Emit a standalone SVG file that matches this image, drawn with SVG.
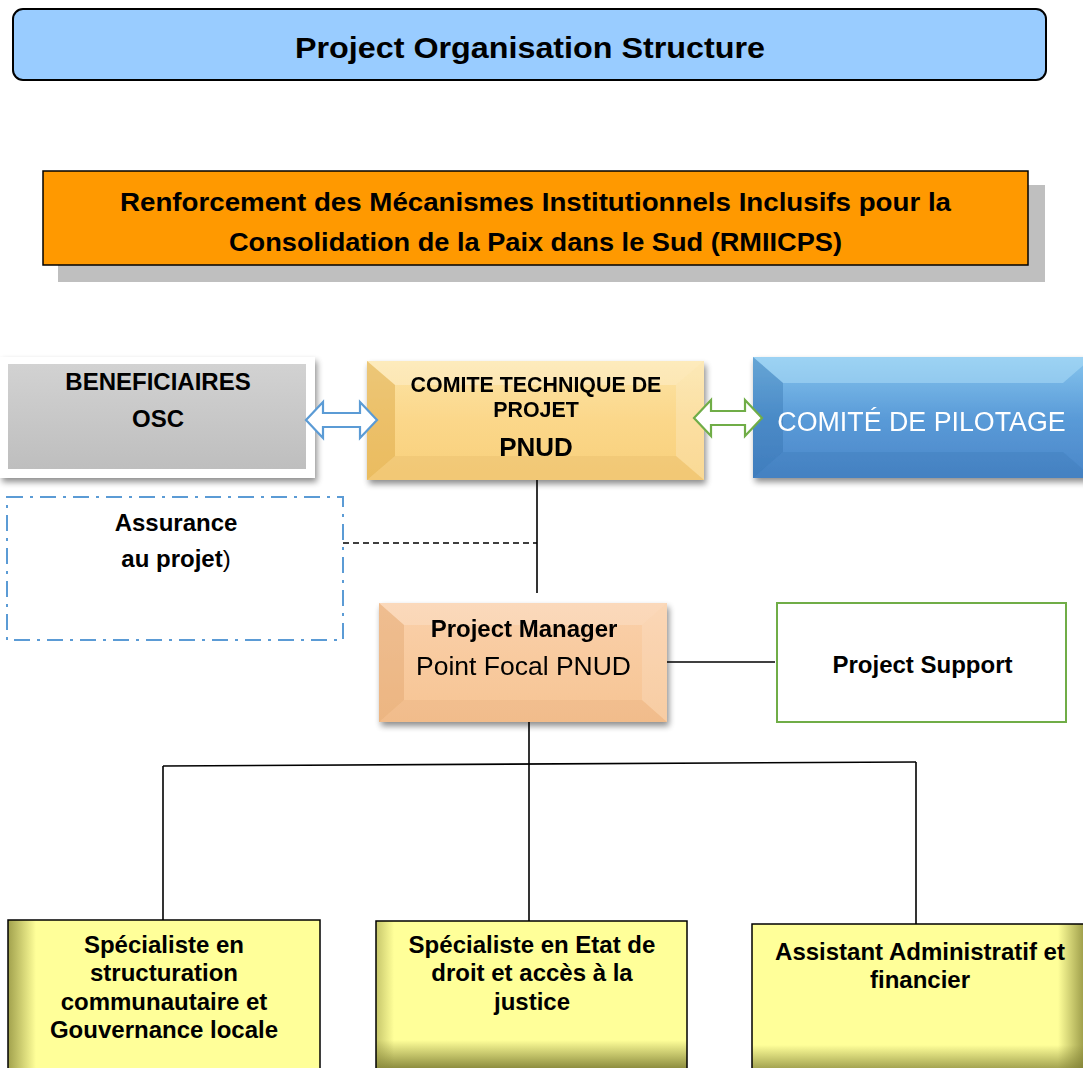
<svg xmlns="http://www.w3.org/2000/svg" width="1083" height="1068" viewBox="0 0 1083 1068">
  <defs>
    <style>
      .t { font-family: "Liberation Sans", Arial, sans-serif; text-anchor: middle; fill: #000; }
      .b { font-weight: bold; }
      .conn { stroke: #000; stroke-width: 1.6; fill: none; }
    </style>
    <filter id="shadow" x="-10%" y="-10%" width="125%" height="130%">
      <feGaussianBlur in="SourceAlpha" stdDeviation="3"/>
      <feOffset dx="2" dy="4" result="o"/>
      <feComponentTransfer><feFuncA type="linear" slope="0.45"/></feComponentTransfer>
      <feMerge><feMergeNode/><feMergeNode in="SourceGraphic"/></feMerge>
    </filter>
    <linearGradient id="gold" x1="0" y1="0" x2="0" y2="1">
      <stop offset="0" stop-color="#FCE4A6"/>
      <stop offset="0.5" stop-color="#FBD78A"/>
      <stop offset="1" stop-color="#F8D07B"/>
    </linearGradient>
    <linearGradient id="blue" x1="0" y1="0" x2="0" y2="1">
      <stop offset="0" stop-color="#86C5EE"/>
      <stop offset="0.5" stop-color="#5A9BD8"/>
      <stop offset="1" stop-color="#4A86C8"/>
    </linearGradient>
    <linearGradient id="peach" x1="0" y1="0" x2="0" y2="1">
      <stop offset="0" stop-color="#FAD0AA"/>
      <stop offset="1" stop-color="#F6C493"/>
    </linearGradient>
    <linearGradient id="grey" x1="0" y1="0" x2="0" y2="1">
      <stop offset="0" stop-color="#D2D2D2"/>
      <stop offset="1" stop-color="#BEBEBE"/>
    </linearGradient>
    <linearGradient id="shadeLeft" x1="0" y1="0" x2="1" y2="0">
      <stop offset="0" stop-color="#8A8A3A" stop-opacity="0.8"/>
      <stop offset="1" stop-color="#8A8A3A" stop-opacity="0"/>
    </linearGradient>
    <linearGradient id="shadeRight" x1="1" y1="0" x2="0" y2="0">
      <stop offset="0" stop-color="#8A8A3A" stop-opacity="0.8"/>
      <stop offset="1" stop-color="#8A8A3A" stop-opacity="0"/>
    </linearGradient>
    <linearGradient id="shadeBottom" x1="0" y1="1" x2="0" y2="0">
      <stop offset="0" stop-color="#7A7A30" stop-opacity="0.85"/>
      <stop offset="1" stop-color="#7A7A30" stop-opacity="0"/>
    </linearGradient>
  </defs>

  <rect width="1083" height="1068" fill="#fff"/>

  <!-- heading -->
  <g id="title">
    <rect x="13" y="9" width="1033" height="71" rx="10" fill="#99CCFF" stroke="#000" stroke-width="2"/>
    <text class="t b" x="530" y="58" font-size="30" textLength="470" lengthAdjust="spacingAndGlyphs">Project Organisation Structure</text>
  </g>

  <!-- project name banner -->
  <g id="project-name">
    <rect x="58" y="185" width="987" height="97" fill="#BFBFBF"/>
    <rect x="43" y="171" width="985" height="94" fill="#FF9900" stroke="#000" stroke-width="1.5"/>
    <text class="t b" x="535.5" y="211" font-size="26" textLength="831" lengthAdjust="spacingAndGlyphs">Renforcement des Mécanismes Institutionnels Inclusifs pour la</text>
    <text class="t b" x="535.5" y="251" font-size="26" textLength="613" lengthAdjust="spacingAndGlyphs">Consolidation de la Paix dans le Sud (RMIICPS)</text>
  </g>

  <!-- beneficiaries -->
  <g id="beneficiaires">
    <rect x="0" y="357" width="315" height="121" fill="#fff" filter="url(#shadow)"/>
    <rect x="8" y="364" width="298" height="105" fill="url(#grey)"/>
    <text class="t b" x="158" y="390" font-size="24">BENEFICIAIRES</text>
    <text class="t b" x="158" y="427" font-size="24">OSC</text>
  </g>

  <!-- technical committee -->
  <g id="comite-technique" filter="url(#shadow)">
    <rect x="367" y="361" width="337" height="119" fill="url(#gold)"/>
    <path d="M367,361 L704,361 L676,385 L395,385 Z" fill="#fff" opacity="0.25"/>
    <path d="M367,361 L395,385 L395,456 L367,480 Z" fill="#D9A441" opacity="0.45"/>
    <path d="M704,361 L676,385 L676,456 L704,480 Z" fill="#fff" opacity="0.2"/>
    <path d="M367,480 L395,456 L676,456 L704,480 Z" fill="#E0B060" opacity="0.25"/>
    <text class="t b" x="536" y="392" font-size="21.4">COMITE TECHNIQUE DE</text>
    <text class="t b" x="536" y="417" font-size="21.4">PROJET</text>
    <text class="t b" x="536" y="456" font-size="26">PNUD</text>
  </g>

  <!-- steering committee -->
  <g id="comite-pilotage" filter="url(#shadow)">
    <rect x="753" y="357" width="340" height="121" fill="url(#blue)"/>
    <path d="M753,357 L1093,357 L1063,383 L783,383 Z" fill="#B8E4FA" opacity="0.45"/>
    <path d="M753,357 L783,383 L783,452 L753,478 Z" fill="#2F6EA8" opacity="0.35"/>
    <path d="M753,478 L783,452 L1063,452 L1093,478 Z" fill="#2F6EA8" opacity="0.2"/>
    <text class="t" x="921.5" y="431" font-size="26.8" style="fill:#fff">COMITÉ DE PILOTAGE</text>
  </g>

  <!-- project assurance -->
  <g id="assurance">
    <rect x="7" y="497" width="336" height="143" fill="none" stroke="#5B9BD5" stroke-width="2" stroke-dasharray="16 7 3 7"/>
    <text class="t b" x="176" y="531" font-size="24">Assurance</text>
    <text class="t" x="176" y="567" font-size="24"><tspan font-weight="bold">au projet</tspan>)</text>
  </g>

  <!-- project manager -->
  <g id="project-manager" filter="url(#shadow)">
    <rect x="379" y="603" width="288" height="119" fill="url(#peach)"/>
    <path d="M379,603 L667,603 L642,625 L404,625 Z" fill="#fff" opacity="0.2"/>
    <path d="M379,603 L404,625 L404,700 L379,722 Z" fill="#D99A60" opacity="0.35"/>
    <path d="M667,603 L642,625 L642,700 L667,722 Z" fill="#fff" opacity="0.15"/>
    <path d="M379,722 L404,700 L642,700 L667,722 Z" fill="#E0A070" opacity="0.2"/>
    <text class="t b" x="524" y="637" font-size="24">Project Manager</text>
    <text class="t" x="523.5" y="675" font-size="26.5">Point Focal PNUD</text>
  </g>

  <!-- project support -->
  <g id="project-support">
    <rect x="777" y="603" width="289" height="119" fill="#fff" stroke="#70AD47" stroke-width="2"/>
    <text class="t b" x="922.5" y="673" font-size="24">Project Support</text>
  </g>

  <!-- specialists and assistant -->
  <g id="specialiste-gouvernance">
    <rect x="8" y="920" width="312" height="160" fill="#FFFF99"/>
    <rect x="8" y="920" width="28" height="160" fill="url(#shadeLeft)"/>
    <rect x="8" y="920" width="312" height="160" fill="none" stroke="#000" stroke-width="1.5"/>
    <text class="t b" x="164" y="953" font-size="24">Spécialiste en</text>
    <text class="t b" x="164" y="981" font-size="24">structuration</text>
    <text class="t b" x="164" y="1010" font-size="24">communautaire et</text>
    <text class="t b" x="164" y="1038" font-size="24">Gouvernance locale</text>
  </g>

  <g id="specialiste-justice">
    <rect x="376" y="921" width="311" height="160" fill="#FFFF99"/>
    <rect x="376" y="1040" width="311" height="28" fill="url(#shadeBottom)"/>
    <rect x="376" y="921" width="18" height="160" fill="url(#shadeLeft)" opacity="0.6"/>
    <rect x="376" y="921" width="311" height="160" fill="none" stroke="#000" stroke-width="1.5"/>
    <text class="t b" x="532" y="953" font-size="24">Spécialiste en Etat de</text>
    <text class="t b" x="532" y="981" font-size="24">droit et accès à la</text>
    <text class="t b" x="532" y="1010" font-size="24">justice</text>
  </g>

  <g id="assistant-admin">
    <rect x="752" y="924" width="340" height="160" fill="#FFFF99"/>
    <rect x="1058" y="924" width="25" height="160" fill="url(#shadeRight)"/>
    <rect x="752" y="1045" width="340" height="23" fill="url(#shadeBottom)" opacity="0.8"/>
    <rect x="752" y="924" width="340" height="160" fill="none" stroke="#000" stroke-width="1.5"/>
    <text class="t b" x="920" y="960" font-size="24">Assistant Administratif et</text>
    <text class="t b" x="920" y="988" font-size="24">financier</text>
  </g>

  <!-- connectors, drawn over the node edges -->
  <g id="connectors">
    <line class="conn" x1="537" y1="480" x2="537" y2="593"/>
    <line class="conn" x1="343" y1="543" x2="537" y2="543" stroke-dasharray="6 4"/>
    <line class="conn" x1="667" y1="662" x2="775" y2="662"/>
    <line class="conn" x1="529" y1="722" x2="529" y2="921"/>
    <line class="conn" x1="163" y1="766" x2="916" y2="762"/>
    <line class="conn" x1="163" y1="766" x2="163" y2="920"/>
    <line class="conn" x1="916" y1="762" x2="916" y2="924"/>
    <path d="M306,420 L323,402 L323,413 L360,413 L360,402 L377,420 L360,438 L360,427 L323,427 L323,438 Z" fill="#fff" stroke="#5B9BD5" stroke-width="2.2"/>
    <path d="M694,418 L711,400 L711,411 L745,411 L745,400 L762,418 L745,436 L745,425 L711,425 L711,436 Z" fill="#fff" stroke="#70AD47" stroke-width="2.2"/>
  </g>
</svg>
